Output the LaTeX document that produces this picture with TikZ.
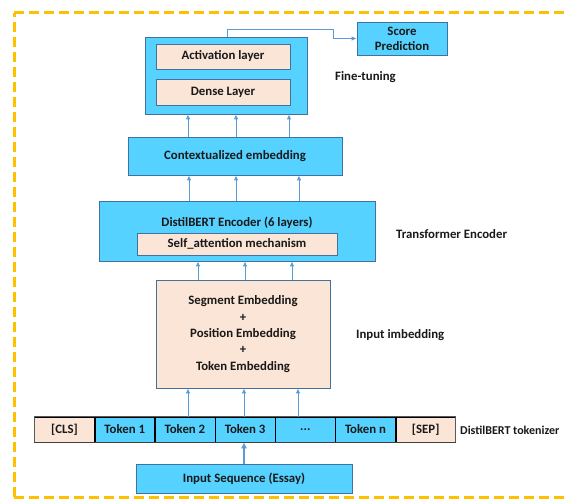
\documentclass[tikz,border=0pt]{standalone}
\usepackage{fontspec}
\setmainfont{Carlito}
\usetikzlibrary{arrows.meta}
\definecolor{cyanfill}{RGB}{85,210,255}
\definecolor{peach}{RGB}{251,229,214}
\definecolor{edge}{RGB}{65,113,156}
\definecolor{arrowc}{RGB}{91,155,213}
\definecolor{orangeb}{RGB}{255,192,0}
\begin{document}
\begin{tikzpicture}[x=1pt,y=-1pt,
  every node/.style={font=\fontsize{12.8}{14}\selectfont\bfseries, text=black!90},
  cbox/.style={draw=edge, line width=0.8pt, fill=cyanfill, inner sep=0pt, align=center},
  pbox/.style={draw=edge, line width=0.8pt, fill=peach, inner sep=0pt, align=center},
  cell/.style={draw=black, line width=0.5pt, inner sep=0pt, minimum width=59.7pt, minimum height=25pt},
  lbl/.style={anchor=west, inner sep=0pt},
  arr/.style={draw=arrowc, line width=0.9pt, -{Latex[length=5pt,width=4.5pt]}},
  thickarr/.style={draw=arrowc, line width=2pt, -{Latex[length=6pt,width=6pt]}},
  border/.style={draw=orangeb, line width=3pt, dash pattern=on 10pt off 5pt}]
\useasboundingbox (0,0) rectangle (565,500);
\draw[border] (14,497) -- (14,13);
\draw[border] (14,13) -- (565,13);
\draw[border] (14,497) -- (565,497);

% fine-tuning block
\node[cbox, minimum width=90pt, minimum height=33pt, font=\fontsize{12.8}{15}\selectfont\bfseries] (score) at (402,38.5) {Score\\Prediction};
\node[cbox, minimum width=162pt, minimum height=77pt] (ft) at (226,75.5) {};
\node[pbox, minimum width=134pt, minimum height=25pt] (act) at (223,56.5) {Activation layer};
\node[pbox, minimum width=134pt, minimum height=26pt] (dense) at (223,92) {Dense Layer};
\node[lbl] (ftl) at (335,77) {Fine-tuning};

\node[cbox, minimum width=214pt, minimum height=38pt] (ctx) at (235,156) {Contextualized embedding};

\node[cbox, minimum width=276pt, minimum height=60pt] (enc) at (237,231) {};
\node (enct) at (237,223) {DistilBERT Encoder (6 layers)};
\node[pbox, minimum width=200pt, minimum height=22pt] (self) at (237,244) {Self\_attention mechanism};
\node[lbl] (encl) at (396,234) {Transformer Encoder};

\node[pbox, minimum width=174pt, minimum height=108pt, font=\fontsize{12.8}{16.3}\selectfont\bfseries] (inp) at (243,334) {Segment Embedding\\+\\Position Embedding\\+\\Token Embedding};
\node[lbl] (inpl) at (356,335) {Input imbedding};

% token row
\node[cell, fill=peach] (cls) at (64.5,429.5) {[CLS]};
\node[cell, fill=cyanfill, anchor=west] (t1) at (cls.east) {Token 1};
\node[cell, fill=cyanfill, anchor=west] (t2) at (t1.east) {Token 2};
\node[cell, fill=cyanfill, anchor=west] (t3) at (t2.east) {Token 3};
\node[cell, fill=cyanfill, anchor=west] (tdots) at (t3.east) {...};
\node[cell, fill=cyanfill, anchor=west] (tn) at (tdots.east) {Token n};
\node[cell, fill=peach, anchor=west] (sep) at (tn.east) {[SEP]};
\draw[black!65, line width=0.9pt] (cls.north west) rectangle (sep.south east);
\draw[black!75, line width=1.4pt] (cls.south west) -- (sep.south east);
\node[lbl, font=\fontsize{12}{14}\selectfont\bfseries] (tokl) at (460,430) {DistilBERT tokenizer};

\node[cbox, minimum width=216pt, minimum height=29pt] (seq) at (244,478.5) {Input Sequence (Essay)};

% arrows
\draw[thickarr] (seq.north) -- (seq.north |- t3.south);
\foreach \x in {188,244,298} \draw[arr] (\x,0 |- t3.north) -- (\x,0 |- inp.south);
\foreach \x in {198,245,292} \draw[arr] (\x,0 |- inp.north) -- (\x,0 |- enc.south);
\foreach \x in {189,236,299} \draw[arr] (\x,0 |- enc.north) -- (\x,0 |- ctx.south);
\foreach \x in {188,236,289} \draw[arr] (\x,0 |- ctx.north) -- (\x,0 |- ft.south);
\draw[arr, line width=0.8pt] (227,0 |- ft.north) -- (227,29) -- (333,29) -- (333,0 |- score.west) -- (score.west);
\end{tikzpicture}
\end{document}
